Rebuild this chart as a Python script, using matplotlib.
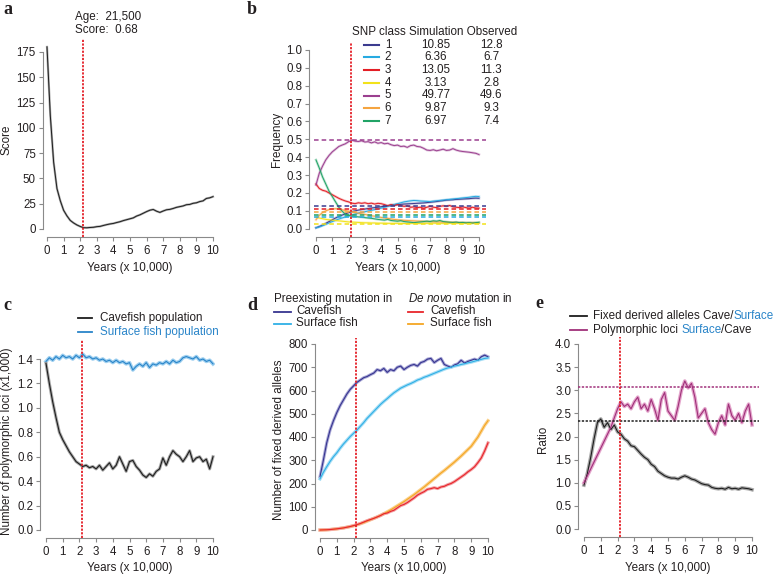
import matplotlib
matplotlib.use("Agg")
import matplotlib.pyplot as plt

plt.rcParams["font.family"] = "Liberation Sans"
plt.rcParams["mathtext.fontset"] = "custom"
plt.rcParams["mathtext.it"] = "Liberation Sans:italic"
plt.rcParams["mathtext.rm"] = "Liberation Sans"

# ---- data ----
years = [0, 0.2, 0.4, 0.6, 0.8, 1.0, 1.2, 1.4, 1.6, 1.8, 2.0, 2.2, 2.4, 2.6, 2.8,
         3.0, 3.2, 3.4, 3.6, 3.8, 4.0, 4.2, 4.4, 4.6, 4.8, 5.0, 5.2, 5.4, 5.6, 5.8,
         6.0, 6.2, 6.4, 6.6, 6.8, 7.0, 7.2, 7.4, 7.6, 7.8, 8.0, 8.2, 8.4, 8.6, 8.8,
         9.0, 9.2, 9.4, 9.6, 9.8, 10.0]

best_age = 21500
best_score = 0.68

score = [180, 112, 66, 40, 28, 18.5, 13, 8.5, 6, 4, 2.5, 1.3, 1.2, 1.5, 1.7,
         2.3, 2.6, 3.5, 4.3, 5.0, 5.5, 6.4, 7.2, 8.3, 9.2, 10.1, 11.0, 12.8, 14.0, 15.6,
         17.2, 18.6, 19.3, 17.6, 16.4, 17.8, 19.0, 19.4, 20.3, 21.4, 22.1, 22.8, 24.0, 24.3, 25.4,
         25.9, 27.1, 27.8, 30.2, 30.8, 32.0]

snp_class = [1, 2, 3, 4, 5, 6, 7]
snp_sim = [10.85, 6.36, 13.05, 3.13, 49.77, 9.87, 6.97]
snp_obs = [12.8, 6.7, 11.3, 2.8, 49.6, 9.3, 7.4]
snp_colors = ["#3b3b8f", "#27aae1", "#e31e25", "#f2e21a", "#9b3f8f", "#f5a440", "#21a366"]

freq1 = [0.005, 0.012, 0.02, 0.03, 0.04, 0.05, 0.06, 0.068, 0.076, 0.083, 0.09, 0.095, 0.1, 0.104, 0.107,
         0.11, 0.113, 0.116, 0.118, 0.12, 0.123, 0.126, 0.128, 0.131, 0.133, 0.135, 0.136, 0.138, 0.139, 0.14,
         0.141, 0.142, 0.143, 0.144, 0.146, 0.148, 0.15, 0.152, 0.155, 0.157, 0.16, 0.161, 0.162, 0.164, 0.165,
         0.166, 0.167, 0.168, 0.17, 0.171, 0.17]
freq2 = [0.005, 0.01, 0.017, 0.024, 0.032, 0.04, 0.047, 0.054, 0.06, 0.066, 0.072, 0.077, 0.082, 0.087, 0.091,
         0.095, 0.099, 0.103, 0.107, 0.111, 0.115, 0.12, 0.125, 0.13, 0.135, 0.14, 0.145, 0.15, 0.153, 0.156,
         0.158, 0.157, 0.155, 0.154, 0.153, 0.152, 0.154, 0.156, 0.158, 0.16, 0.162, 0.164, 0.166, 0.168, 0.17,
         0.172, 0.174, 0.176, 0.179, 0.181, 0.18]
freq3 = [0.25, 0.225, 0.215, 0.21, 0.2, 0.19, 0.18, 0.17, 0.162, 0.155, 0.15, 0.143, 0.14, 0.145, 0.142,
         0.145, 0.14, 0.143, 0.138, 0.142, 0.14, 0.135, 0.128, 0.135, 0.13, 0.135, 0.13, 0.125, 0.128, 0.12,
         0.122, 0.118, 0.12, 0.115, 0.12, 0.125, 0.12, 0.118, 0.125, 0.128, 0.125, 0.13, 0.122, 0.12, 0.118,
         0.122, 0.118, 0.115, 0.12, 0.116, 0.115]
freq4 = [0.065, 0.06, 0.056, 0.052, 0.05, 0.048, 0.046, 0.044, 0.042, 0.04, 0.038, 0.037, 0.036, 0.035, 0.034,
         0.033, 0.033, 0.032, 0.032, 0.031, 0.031, 0.031, 0.03, 0.03, 0.03, 0.03, 0.03, 0.029, 0.029, 0.03,
         0.03, 0.029, 0.029, 0.03, 0.03, 0.03, 0.031, 0.03, 0.03, 0.03, 0.031, 0.031, 0.03, 0.03, 0.031,
         0.031, 0.03, 0.03, 0.031, 0.031, 0.031]
freq5 = [0.245, 0.31, 0.35, 0.385, 0.41, 0.43, 0.445, 0.46, 0.468, 0.475, 0.487, 0.495, 0.49, 0.488, 0.492,
         0.485, 0.487, 0.48, 0.486, 0.478, 0.482, 0.475, 0.478, 0.47, 0.465, 0.468, 0.46, 0.462, 0.455, 0.465,
         0.468, 0.46, 0.458, 0.45, 0.44, 0.438, 0.442, 0.436, 0.44, 0.445, 0.438, 0.44, 0.448, 0.44, 0.435,
         0.432, 0.43, 0.428, 0.425, 0.422, 0.415]
freq6 = [0.05, 0.075, 0.09, 0.1, 0.107, 0.11, 0.112, 0.11, 0.106, 0.102, 0.098, 0.095, 0.09, 0.087, 0.083,
         0.08, 0.076, 0.072, 0.07, 0.066, 0.063, 0.06, 0.058, 0.055, 0.052, 0.05, 0.048, 0.047, 0.046, 0.045,
         0.044, 0.043, 0.042, 0.041, 0.04, 0.04, 0.039, 0.038, 0.038, 0.037, 0.037, 0.036, 0.036, 0.035, 0.035,
         0.035, 0.034, 0.034, 0.034, 0.033, 0.033]
freq7 = [0.385, 0.34, 0.29, 0.25, 0.21, 0.18, 0.15, 0.12, 0.098, 0.082, 0.075, 0.07, 0.068, 0.066, 0.065,
         0.062, 0.06, 0.058, 0.055, 0.052, 0.05, 0.048, 0.052, 0.046, 0.044, 0.042, 0.045, 0.04, 0.038, 0.036,
         0.034, 0.036, 0.038, 0.04, 0.042, 0.04, 0.044, 0.042, 0.046, 0.04, 0.038, 0.036, 0.035, 0.037, 0.034,
         0.035, 0.033, 0.034, 0.032, 0.034, 0.036]
snp_freqs = [freq1, freq2, freq3, freq4, freq5, freq6, freq7]

poly_cave = [1.365, 1.2, 1.05, 0.92, 0.8, 0.74, 0.69, 0.64, 0.6, 0.56, 0.54, 0.52, 0.53, 0.51, 0.52,
             0.5, 0.53, 0.49, 0.52, 0.55, 0.5, 0.53, 0.6, 0.54, 0.48, 0.56, 0.57, 0.52, 0.49, 0.45,
             0.43, 0.46, 0.44, 0.48, 0.5, 0.59, 0.53, 0.6, 0.65, 0.62, 0.6, 0.56, 0.6, 0.65, 0.56,
             0.59, 0.6, 0.56, 0.58, 0.5, 0.6]
poly_surface = [1.38, 1.41, 1.39, 1.42, 1.4, 1.43, 1.41, 1.42, 1.4, 1.43, 1.41, 1.44, 1.41, 1.42, 1.4,
                1.41, 1.39, 1.4, 1.38, 1.39, 1.37, 1.39, 1.37, 1.38, 1.36, 1.37, 1.31, 1.34, 1.36, 1.34,
                1.37, 1.33, 1.36, 1.35, 1.37, 1.36, 1.38, 1.36, 1.39, 1.37, 1.38, 1.41, 1.42, 1.41, 1.4,
                1.42, 1.39, 1.4, 1.38, 1.39, 1.36]

pre_cave = [229, 300, 375, 430, 470, 505, 535, 560, 585, 605, 620, 635, 645, 655, 660,
            668, 675, 690, 685, 695, 678, 690, 685, 700, 705, 690, 700, 708, 712, 705,
            720, 725, 735, 738, 720, 730, 738, 712, 705, 700, 710, 715, 730, 718, 725,
            730, 735, 730, 745, 752, 745]
pre_surface = [220, 248, 272, 295, 315, 332, 352, 370, 386, 402, 416, 430, 446, 462, 480,
               495, 510, 525, 540, 553, 565, 578, 590, 600, 610, 617, 624, 630, 637, 645,
               650, 657, 662, 668, 674, 680, 686, 692, 697, 700, 705, 708, 712, 715, 719,
               722, 726, 730, 734, 738, 740]
novo_cave = [0, 0.5, 1, 2, 3.5, 5, 7, 9, 12, 15, 19, 23, 28, 34, 40,
             45, 50, 56, 62, 70, 73, 80, 85, 95, 105, 110, 118, 128, 138, 150,
             158, 165, 175, 178, 182, 178, 185, 188, 195, 200, 208, 218, 228, 238, 250,
             260, 272, 290, 310, 340, 375]
novo_surface = [0, 0.5, 1, 2, 3.5, 5, 7, 9, 12, 15, 18, 22, 27, 32, 38,
                44, 50, 56, 63, 70, 78, 86, 95, 104, 113, 122, 132, 142, 152, 163,
                174, 185, 197, 209, 221, 233, 245, 256, 268, 280, 292, 305, 318, 332, 346,
                360, 380, 400, 425, 450, 470]

ratio_fixed = [0.95, 1.2, 1.55, 1.95, 2.3, 2.38, 2.2, 2.3, 2.15, 2.25, 2.1, 2.05, 1.95, 1.9, 1.8,
               1.78, 1.7, 1.62, 1.55, 1.5, 1.4, 1.35, 1.25, 1.2, 1.15, 1.12, 1.1, 1.1, 1.08, 1.12,
               1.15, 1.12, 1.08, 1.06, 1.02, 0.98, 0.96, 0.95, 0.9, 0.88, 0.87, 0.88, 0.86, 0.9, 0.87,
               0.88, 0.86, 0.89, 0.88, 0.87, 0.85]
ratio_poly = [1.0, 1.15, 1.3, 1.45, 1.6, 1.75, 1.9, 2.05, 2.2, 2.4, 2.6, 2.75, 2.65, 2.7, 2.6,
              2.75, 2.85, 2.6, 2.7, 2.55, 2.8, 2.6, 2.35, 2.8, 2.95, 2.55, 2.45, 2.35, 2.65, 3.0,
              3.2, 3.05, 3.15, 2.85, 2.4, 2.5, 2.6, 2.3, 2.15, 2.05, 2.3, 2.45, 2.25, 2.7, 2.45,
              2.35, 2.5, 2.3, 2.55, 2.7, 2.25]
ratio_fixed_obs = 2.34
ratio_poly_obs = 3.08

# ---- layout helpers (pixel coordinates, y down) ----
W, H = 778, 578
fig = plt.figure(figsize=(W / 100, H / 100), dpi=100)

GREY = "#8a8a8a"
TXT = "#231f20"
RED = "#e41e26"
BLUE_TXT = "#2a85c9"
FS = 8.3     # tick labels
LFS = 8.4    # labels / legends


def make_axes(x0, x10, y0, ytop_px, ytop, xlim, ylim):
    sx = (x10 - x0) / 10
    sy = (y0 - ytop_px) / ytop
    left = x0 + xlim[0] * sx
    right = x0 + xlim[1] * sx
    bottom = y0 - ylim[0] * sy
    top = y0 - ylim[1] * sy
    ax = fig.add_axes([left / W, 1 - bottom / H, (right - left) / W, (bottom - top) / H])
    ax.set_xlim(xlim)
    ax.set_ylim(ylim)
    ax.rect = (left, right, bottom, top)
    return ax


def style(ax, yticks, fmt, ylabel, ylab_x, xlab_y):
    for s in ["top", "right"]:
        ax.spines[s].set_visible(False)
    for s in ["left", "bottom"]:
        ax.spines[s].set_color(GREY)
        ax.spines[s].set_linewidth(0.8)
    ax.spines["left"].set_bounds(yticks[0], yticks[-1])
    ax.spines["bottom"].set_bounds(0, 10)
    ax.set_xticks(range(11))
    ax.set_yticks(yticks)
    ax.set_yticklabels([fmt.format(v) for v in yticks])
    ax.tick_params(length=3, width=0.8, color=GREY, labelsize=FS, labelcolor=TXT)
    ax.tick_params(axis="x", pad=3)
    ax.tick_params(axis="y", pad=2)
    ax.patch.set_visible(False)
    left, right, bottom, top = ax.rect
    xl = ax.get_xlim()
    ax.set_ylabel(ylabel, fontsize=LFS, color=TXT, va="center")
    ax.yaxis.set_label_coords((ylab_x - left) / (right - left), 0.5)
    ax.set_xlabel("Years (x 10,000)", fontsize=LFS, color=TXT, va="center")
    ax.xaxis.set_label_coords((5 - xl[0]) / (xl[1] - xl[0]), (bottom - xlab_y) / (bottom - top))


def trace(ax, y, color, halo, lw=0.8, hw=2.2):
    ax.plot(years, y, color=halo, lw=hw, solid_joinstyle="round", zorder=2)
    ax.plot(years, y, color=color, lw=lw, zorder=3)


def age_line(ax, top_val):
    x = best_age / 10000
    ax.plot([x, x], [ax.get_ylim()[0], top_val], color=RED, lw=1.3,
            ls=(0, (1.2, 0.8)), clip_on=False, zorder=6)


# ---- panel a ----
ax_a = make_axes(47, 213, 229, 52, 175, (-0.25, 10.1), (-7.9, 185))
style(ax_a, [0, 25, 50, 75, 100, 125, 150, 175], "{:d}", "Score", 7, 268)
trace(ax_a, score, "#1e1e1e", "#a8a8a8", lw=0.7, hw=1.6)
age_line(ax_a, 188)

# ---- panel b ----
ax_b = make_axes(316, 479, 228.7, 50, 1.0, (-0.4, 10.45), (-0.045, 1.05))
style(ax_b, [round(0.1 * i, 1) for i in range(11)], "{:.1f}", "Frequency", 277, 268)
for f, c in zip(snp_freqs, snp_colors):
    ax_b.plot(years, f, color=c, lw=1.8, alpha=0.3, zorder=2)
    ax_b.plot(years, f, color=c, lw=0.7, zorder=3)
for o, c in zip(snp_obs, snp_colors):
    ax_b.plot([-0.12, 10.4], [o / 100, o / 100], color=c, lw=1.1, ls=(0, (3, 2)), zorder=4)
age_line(ax_b, 1.04)

# ---- panel c ----
ax_c = make_axes(46, 213, 530, 359, 1.4, (-0.35, 10.1), (-0.065, 1.52))
style(ax_c, [round(0.2 * i, 1) for i in range(8)], "{:.1f}", "Number of polymorphic loci (x1,000)", 7, 568)
trace(ax_c, poly_surface, "#2a85c9", "#9fd0f0", lw=0.8, hw=2.6)
trace(ax_c, poly_cave, "#1e1e1e", "#a8a8a8", lw=0.8, hw=2.2)
age_line(ax_c, 1.556)

# ---- panel d ----
ax_d = make_axes(320, 488, 530, 344, 800, (-0.3, 10.1), (-34, 810))
style(ax_d, list(range(0, 801, 100)), "{:d}", "Number of fixed derived alleles", 279, 568)
trace(ax_d, pre_cave, "#373590", "#a9a8d6", lw=0.8, hw=2.2)
trace(ax_d, pre_surface, "#2fb0e6", "#a8def5", lw=0.8, hw=2.4)
trace(ax_d, novo_surface, "#f5a623", "#fad28f", lw=0.8, hw=2.4)
trace(ax_d, novo_cave, "#e8252b", "#f3a0a3", lw=0.8, hw=2.2)
age_line(ax_d, 826)

# ---- panel e ----
ax_e = make_axes(584, 752, 529, 344, 4.0, (-0.35, 10.45), (-0.173, 4.05))
style(ax_e, [0.5 * i for i in range(9)], "{:.1f}", "Ratio", 543, 568)
trace(ax_e, ratio_fixed, "#1e1e1e", "#a8a8a8", lw=0.8, hw=2.6)
trace(ax_e, ratio_poly, "#a0307a", "#e4a6cc", lw=0.8, hw=2.6)
ax_e.plot([-0.35, 10.4], [ratio_poly_obs] * 2, color="#a0307a", lw=1.1, ls=(0, (1.5, 1)), zorder=4)
ax_e.plot([-0.35, 10.4], [ratio_fixed_obs] * 2, color="#1e1e1e", lw=1.1, ls=(0, (1.5, 1)), zorder=4)
age_line(ax_e, 4.15)

# ---- overlay for letters, annotations and legends ----
ov = fig.add_axes([0, 0, 1, 1])
ov.set_xlim(0, W)
ov.set_ylim(H, 0)
ov.axis("off")

for letter, (lx, ly) in zip("abcde", [(3, 10), (247, 10), (3, 305), (247, 305), (535, 303)]):
    ov.text(lx, ly, letter, fontfamily="Liberation Serif", fontweight="bold",
            fontsize=13, va="center", ha="left", color=TXT)

ov.text(75, 17, f"Age:  {best_age:,}", fontsize=LFS, va="center", color=TXT)
ov.text(75, 30, f"Score:  {best_score:.2f}", fontsize=LFS, va="center", color=TXT)

# panel b table legend
ov.text(352, 32, "SNP class Simulation Observed", fontsize=LFS, va="center", color=TXT)
for i, (k, s, o, c) in enumerate(zip(snp_class, snp_sim, snp_obs, snp_colors)):
    y = 44.7 + i * 12.7
    ov.plot([364, 379], [y, y], color=c, lw=1.5)
    ov.text(388, y, str(k), fontsize=LFS, va="center", ha="center", color=TXT)
    ov.text(436, y, f"{s:.2f}", fontsize=LFS, va="center", ha="center", color=TXT)
    ov.text(491, y, f"{o:g}", fontsize=LFS, va="center", ha="center", color=TXT)

renderer = fig.canvas.get_renderer()


def text_width(s):
    t = ov.text(0, 0, s + "|", fontsize=LFS)
    w1 = t.get_window_extent(renderer).width
    t.remove()
    t = ov.text(0, 0, "|", fontsize=LFS)
    w2 = t.get_window_extent(renderer).width
    t.remove()
    return w1 - w2


def multi_text(x, y, parts):
    for s, c in parts:
        ov.text(x, y, s, fontsize=LFS, va="center", color=c)
        x += text_width(s)


def legend_row(x1, x2, y, color, label, tx, label_color=TXT):
    ov.plot([x1, x2], [y, y], color=color, lw=1.3)
    ov.text(tx, y, label, fontsize=LFS, va="center", color=label_color)


# panel c legend
legend_row(78, 92, 318, "#1e1e1e", "Cavefish population", 100)
legend_row(78, 92, 332, "#2a85c9", "Surface fish population", 100, label_color=BLUE_TXT)

# panel d legend
ov.text(274, 299, "Preexisting mutation in", fontsize=LFS, va="center", color=TXT)
ov.text(408, 299, r"$\mathit{De\ novo}$ mutation in", fontsize=LFS, va="center", color=TXT)
legend_row(274, 291, 311.5, "#373590", "Cavefish", 296)
legend_row(274, 291, 323.5, "#2fb0e6", "Surface fish", 296)
legend_row(408, 423, 311.5, "#e8252b", "Cavefish", 430)
legend_row(408, 423, 323.5, "#f5a623", "Surface fish", 430)

# panel e legend
ov.plot([570, 587], [316, 316], color="#1e1e1e", lw=1.3)
multi_text(593, 316, [("Fixed derived alleles Cave/", TXT), ("Surface", BLUE_TXT)])
ov.plot([570, 587], [330, 330], color="#a0307a", lw=1.3)
multi_text(593, 330, [("Polymorphic loci ", TXT), ("Surface", BLUE_TXT), ("/Cave", TXT)])

fig.savefig("out.png", dpi=100)
